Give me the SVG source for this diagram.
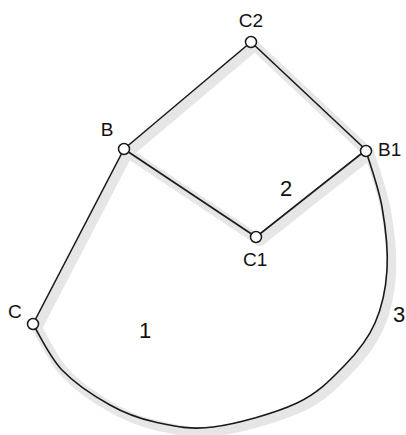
<svg xmlns="http://www.w3.org/2000/svg" width="406" height="435" viewBox="0 0 406 435">
<defs>
<style>
.sh{fill:none;stroke:#e6e6e6;stroke-width:10;stroke-linecap:round;stroke-linejoin:round}
.ln{fill:none;stroke:#1a1a1a;stroke-width:1.6}
.nd{fill:#fff;stroke:#1a1a1a;stroke-width:1.5}
.lb{font-family:"Liberation Sans",Arial,sans-serif;font-size:19px;fill:#111}
.num{font-family:"Liberation Sans",Arial,sans-serif;font-size:22px;fill:#111}
</style>
<path id="arc" d="M33,324 C37.8,331.7 49.2,356.5 62,370 C74.8,383.5 94.5,396.3 110,405 C125.5,413.7 137.8,418.3 155,422 C172.2,425.7 189.3,430.2 213,427 C236.7,423.8 275,413.3 297,403 C319,392.7 332,378.3 345,365 C358,351.7 368,338.8 375,323 C382,307.2 385.8,289.3 387,270 C388.2,250.7 385.5,226.8 382,207 C378.5,187.2 368.7,160.3 366,151"/>
</defs>
<rect width="406" height="435" fill="#fff"/>
<g id="shadow" transform="translate(4,4)">
<use href="#arc" class="sh"/>
<polyline class="sh" points="33,324 124,149 251,42 366,150 256,237 124,149"/>
</g>
<g id="connectors">
<use href="#arc" class="ln"/>
<line class="ln" x1="251" y1="42" x2="124" y2="149"/>
<line class="ln" x1="251" y1="42" x2="366" y2="150"/>
<line class="ln" x1="124" y1="149" x2="256" y2="237"/>
<line class="ln" x1="256" y1="237" x2="366" y2="150"/>
<line class="ln" x1="124" y1="149" x2="33" y2="324"/>
</g>
<g id="C2"><circle class="nd" cx="251" cy="42" r="5.5"/><text class="lb" x="251" y="27" text-anchor="middle">C2</text></g>
<g id="B"><circle class="nd" cx="124" cy="149" r="5.5"/><text class="lb" x="107" y="136" text-anchor="middle">B</text></g>
<g id="B1"><circle class="nd" cx="366" cy="151" r="5.5"/><text class="lb" x="378" y="156">B1</text></g>
<g id="C1"><circle class="nd" cx="256" cy="237" r="5.5"/><text class="lb" x="243" y="266">C1</text></g>
<g id="C"><circle class="nd" cx="33" cy="324" r="5.5"/><text class="lb" x="8" y="318">C</text></g>
<g id="regions">
<text class="num" x="145" y="338" text-anchor="middle">1</text>
<text class="num" x="286" y="196" text-anchor="middle">2</text>
<text class="num" x="393" y="322">3</text>
</g>
</svg>
